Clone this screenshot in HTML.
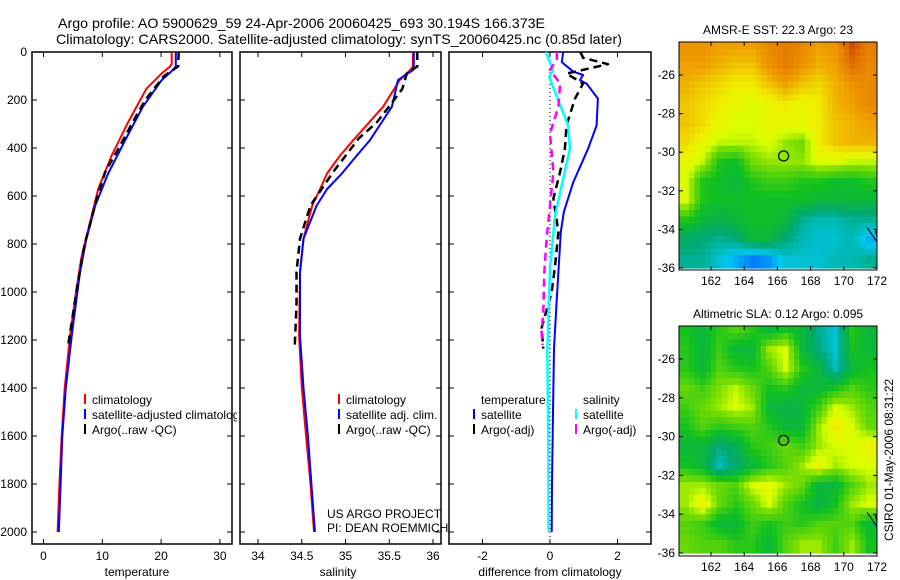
<!DOCTYPE html>
<html><head><meta charset="utf-8"><style>
html,body{margin:0;padding:0;background:#fff;}
svg{display:block;font-family:"Liberation Sans",sans-serif;}
</style></head><body>
<svg id="fig" width="900" height="580" viewBox="0 0 900 580" xmlns="http://www.w3.org/2000/svg">
<defs>
<clipPath id="c1"><rect x="32" y="52" width="205" height="492"/></clipPath>
<clipPath id="cm1"><rect x="679" y="42" width="198" height="228"/></clipPath>
<clipPath id="cm2"><rect x="679" y="326" width="198" height="230"/></clipPath>
</defs>
<text x="58" y="28" font-size="14" textLength="487" lengthAdjust="spacingAndGlyphs">Argo profile: AO 5900629_59 24-Apr-2006 20060425_693 30.194S 166.373E</text>
<text x="56" y="44" font-size="14" textLength="566" lengthAdjust="spacingAndGlyphs">Climatology: CARS2000. Satellite-adjusted climatology: synTS_20060425.nc (0.85d later)</text>
<g id="root"></g>
<text transform="translate(893,460) rotate(-90)" font-size="12" text-anchor="middle">CSIRO 01-May-2006 08:31:22</text>
</svg>
<script>
// ---- profile data (depth in m) ----
const tClimDepth=[0,50,61,89,153,292,431,571,710,849,988,1183,1400,1600,1800,2000];
const tClimVal=[21.8,21.8,21.5,20.1,17.5,14.4,11.6,9.3,7.9,6.5,5.6,4.5,3.6,3.1,2.7,2.4];
const tSatDepth=[0,60,75,117,228,367,506,640,778,917,1183,1400,1600,1800,2000];
const tSatVal=[22.5,22.5,22.0,20.1,16.9,13.9,11.0,8.8,7.3,6.2,4.8,3.8,3.2,2.9,2.6];
const tArgoDepth=[0,60,100,200,300,400,500,600,800,1000,1220];
const tArgoVal=[23.0,22.9,20.5,17.3,15.0,12.8,10.5,9.2,7.0,5.6,4.2];
const sClimDepth=[0,60,75,117,228,367,431,506,571,640,778,917,1183,1400,1600,1800,2000];
const sClimVal=[35.77,35.77,35.74,35.62,35.43,35.09,34.94,34.79,34.71,34.62,34.52,34.48,34.47,34.5,34.55,34.6,34.64];
const sSatDepth=[0,60,75,117,228,367,431,506,571,640,778,917,1183,1400,1600,1800,2000];
const sSatVal=[35.78,35.78,35.77,35.60,35.53,35.28,35.13,34.96,34.79,34.67,34.52,34.48,34.48,34.52,34.57,34.61,34.65];
const sArgoDepth=[0,60,89,153,222,292,361,500,639,778,917,1056,1220];
const sArgoVal=[35.82,35.82,35.70,35.65,35.51,35.36,35.15,34.86,34.60,34.48,34.44,34.44,34.42];
const dTSatDepth=[0,42,82,96,117,133,194,306,403,542,667,750,1028,1236,1500,1800,2000];
const dTSatVal=[0.39,0.35,0.69,0.98,0.89,1.09,1.42,1.38,1.13,0.69,0.41,0.32,0.2,0.12,0.09,0.06,0.05];
const dTArgoDepth=[0,24,51,65,90,131,194,306,403,500,611,750,889,1000,1150,1236];
const dTArgoVal=[0.9,0.98,1.72,1.27,0.49,0.98,0.74,0.49,0.44,0.30,0.10,0.25,0.15,0.05,-0.25,-0.2];
const dSSatDepth=[0,75,103,167,306,403,528,681,903,1250,1600,2000];
const dSSatVal=[-0.12,0.09,-0.02,0.15,0.54,0.59,0.39,0.15,0.0,-0.08,-0.05,-0.04];
const dSArgoDepth=[0,31,75,131,228,339,500,639,778,917,1083,1167,1222];
const dSArgoVal=[0.2,0.2,0.0,0.30,0.25,0.0,0.1,0.0,-0.1,-0.17,-0.2,-0.25,-0.22];
const depthTicks=[0,200,400,600,800,1000,1200,1400,1600,1800,2000];
const tempTicks=[0,10,20,30];
const salTicks=[34,34.5,35,35.5,36];
const diffTicks=[-2,0,2];
// ---- map data (rows lat -24.5..-35.5, cols lon 160.5..171.5) ----
const mapLons=[160.5,161.5,162.5,163.5,164.5,165.5,166.5,167.5,168.5,169.5,170.5,171.5];
const mapLats=[-24.5,-25.5,-26.5,-27.5,-28.5,-29.5,-30.5,-31.5,-32.5,-33.5,-34.5,-35.5];
const sstGrid=[
[23.1,23.1,23.0,23.0,23.0,23.2,23.3,23.2,23.0,23.1,23.6,23.3],
[23.0,23.0,22.9,22.8,22.8,23.1,23.3,23.1,22.9,23.0,23.4,23.2],
[22.9,22.8,22.7,22.6,22.6,22.8,23.0,22.8,22.7,22.9,23.1,23.2],
[22.8,22.7,22.6,22.5,22.4,22.5,22.6,22.5,22.6,22.9,23.0,23.2],
[22.8,22.7,22.5,22.4,22.4,22.5,22.5,22.5,22.6,22.8,22.9,23.0],
[22.7,22.5,22.3,22.3,22.3,22.4,22.2,22.1,22.6,22.8,22.9,22.9],
[22.5,22.3,21.8,21.7,22.1,22.2,22.2,22.2,22.4,22.4,22.3,22.3],
[22.4,21.8,21.7,21.6,21.8,21.9,21.9,21.8,21.8,21.7,21.7,21.8],
[22.4,21.8,21.7,21.7,21.7,21.7,21.7,21.7,21.6,21.6,21.6,21.6],
[21.8,21.6,21.5,21.6,21.7,21.7,21.6,21.2,21.1,21.1,21.2,21.2],
[21.4,21.3,21.2,21.3,21.6,21.6,21.3,21.1,21.0,21.0,21.1,20.8],
[21.2,21.2,21.0,20.8,20.6,20.7,21.0,21.0,21.0,21.1,21.1,21.2]];
const slaGrid=[
[0.02,0.0,0.03,0.05,0.03,0.0,0.02,0.0,-0.05,-0.08,0.03,0.0],
[0.03,0.0,0.04,0.0,0.0,0.08,0.1,0.0,-0.04,-0.08,0.02,0.0],
[0.03,0.0,0.05,0.03,0.02,0.05,0.1,0.03,0.0,-0.07,0.0,0.02],
[0.06,0.04,0.07,0.09,0.06,0.02,0.03,0.0,0.0,0.02,0.05,0.03],
[0.04,0.06,0.08,0.1,0.08,0.0,-0.01,0.0,0.04,0.1,0.08,0.05],
[0.02,0.05,0.03,0.04,0.05,0.03,0.0,0.0,0.08,0.13,0.1,0.06],
[0.0,0.0,-0.04,-0.02,0.03,0.04,0.06,0.04,0.08,0.1,0.1,0.12],
[0.02,0.0,-0.07,-0.03,0.0,0.03,0.05,0.08,0.12,0.08,0.1,0.1],
[0.08,0.08,0.06,0.05,0.1,0.11,0.08,0.06,0.0,0.0,0.05,0.08],
[0.08,0.12,0.06,0.03,0.06,0.1,0.05,0.02,-0.01,0.02,0.08,0.1],
[0.05,0.04,0.0,0.0,0.04,0.02,0.04,0.03,0.05,0.05,0.05,0.0],
[0.06,0.05,0.05,0.03,0.03,0.0,0.05,0.08,0.08,0.04,0.08,0.02]];
const mapLonTicks=[162,164,166,168,170,172];
const mapLatTicks=[-26,-28,-30,-32,-34,-36];
const argoLon=166.373, argoLat=-30.194;

const NS='http://www.w3.org/2000/svg';
const root=document.getElementById('root');
function mk(tag,attrs,parent){const e=document.createElementNS(NS,tag);for(const k in attrs)e.setAttribute(k,attrs[k]);(parent||root).appendChild(e);return e;}
function txt(s,attrs,parent){const e=mk('text',attrs,parent);e.textContent=s;return e;}
const yD=d=>52+d*0.24;
const xT=v=>43.5+v*5.88;
const xS=v=>258+(v-34)*87.5;
const xDf=v=>550+v*33.75;

const panels=[[32,200,'temperature-panel'],[240,201,'salinity-panel'],[449,202,'difference-panel']];
panels.forEach(p=>{
  const r=mk('rect',{x:p[0],y:52,width:p[1],height:492,fill:'none',stroke:'#000','stroke-width':1.5});
  
  
  depthTicks.forEach(d=>{
    mk('line',{x1:p[0],x2:p[0]+5,y1:yD(d),y2:yD(d),stroke:'#000'});
    mk('line',{x1:p[0]+p[1]-5,x2:p[0]+p[1],y1:yD(d),y2:yD(d),stroke:'#000'});
  });
});
depthTicks.forEach(d=>{
  const t=txt(String(d),{x:27,y:yD(d)+4,'font-size':12,'text-anchor':'end'});
  
  
});
function xticks(ticks,fx,label){
  ticks.forEach(v=>{
    mk('line',{x1:fx(v),x2:fx(v),y1:52,y2:57,stroke:'#000'});
    mk('line',{x1:fx(v),x2:fx(v),y1:539,y2:544,stroke:'#000'});
    const t=txt(String(v),{x:fx(v),y:560,'font-size':12,'text-anchor':'middle'});
    
    
  });
}
xticks(tempTicks,xT,'temperature');
xticks(salTicks,xS,'salinity');
xticks(diffTicks,xDf,'difference');
[['temperature',137,'temperature-axis-title'],['salinity',338,'salinity-axis-title'],['difference from climatology',550,'difference-axis-title']].forEach(a=>{
  const t=txt(a[0],{x:a[1],y:576,'font-size':12,'text-anchor':'middle'});
  
  
});
const z=mk('line',{x1:xDf(0),x2:xDf(0),y1:52,y2:544,stroke:'#000','stroke-dasharray':'1,3'});



function series(depths,vals,fx,color,dash,w,name){
  const pts=depths.map((d,i)=>fx(vals[i]).toFixed(1)+','+yD(d).toFixed(1)).join(' ');
  const a={points:pts,fill:'none',stroke:color,'stroke-width':w,'stroke-linejoin':'round'};
  if(dash)a['stroke-dasharray']=dash;
  const e=mk('polyline',a);
  
  
}
series(tClimDepth,tClimVal,xT,'#f00',null,2,'temp-climatology-line');
series(tSatDepth,tSatVal,xT,'#00f',null,2,'temp-satellite-line');
series(tArgoDepth,tArgoVal,xT,'#000','8,5',2.5,'temp-argo-line');
series(sClimDepth,sClimVal,xS,'#f00',null,2,'sal-climatology-line');
series(sSatDepth,sSatVal,xS,'#00f',null,2,'sal-satellite-line');
series(sArgoDepth,sArgoVal,xS,'#000','8,5',2.5,'sal-argo-line');
series(dTSatDepth,dTSatVal,xDf,'#00f',null,2,'diff-temp-satellite-line');
series(dTArgoDepth,dTArgoVal,xDf,'#000','8,5',2.5,'diff-temp-argo-line');
series(dSSatDepth,dSSatVal,xDf,'#0ff',null,2.5,'diff-sal-satellite-line');
series(dSArgoDepth,dSArgoVal,xDf,'#f0f','8,5',2.5,'diff-sal-argo-line');

function leg(x,y,color,label,clip,name){
  const g=mk('g',clip?{'clip-path':clip}:{});
  
  
  if(color)mk('line',{x1:x,x2:x,y1:y-10,y2:y,stroke:color,'stroke-width':2},g);
  txt(label,{x:x+7,y:y,'font-size':12},g);
}
leg(85,404,'#f00','climatology','url(#c1)','legend-temp-climatology');
leg(85,419,'#00f','satellite-adjusted climatology','url(#c1)','legend-temp-satellite');
leg(85,434,'#000','Argo(..raw -QC)','url(#c1)','legend-temp-argo');
leg(339,404,'#f00','climatology',null,'legend-sal-climatology');
leg(339,419,'#00f','satellite adj. clim.',null,'legend-sal-satellite');
leg(339,434,'#000','Argo(..raw -QC)',null,'legend-sal-argo');
leg(474,404,null,'temperature',null,'legend-temp-header');
leg(474,419,'#00f','satellite',null,'legend-diff-temp-satellite');
leg(474,434,'#000','Argo(-adj)',null,'legend-diff-temp-argo');
leg(576,404,null,'salinity',null,'legend-sal-header');
leg(576,419,'#0ff','satellite',null,'legend-diff-sal-satellite');
leg(576,434,'#f0f','Argo(-adj)',null,'legend-diff-sal-argo');
const c1=txt('US ARGO PROJECT',{x:327,y:518,'font-size':12});


const c2=txt('PI: DEAN ROEMMICH',{x:327,y:532,'font-size':12});



// colormap
const stops=[[0,[0,96,255]],[0.125,[0,200,240]],[0.25,[0,168,112]],[0.375,[16,192,32]],[0.5,[128,224,0]],[0.56,[216,255,0]],[0.625,[240,240,0]],[0.75,[240,160,0]],[0.875,[224,112,0]],[1,[192,32,0]]];
function cmap(t){t=Math.max(0,Math.min(1,t));for(let i=1;i<stops.length;i++){if(t<=stops[i][0]){const a=stops[i-1],b=stops[i];const f=(t-a[0])/(b[0]-a[0]);return 'rgb('+a[1].map((c,k)=>Math.round(c+(b[1][k]-c)*f)).join(',')+')';}}return 'rgb(192,32,0)';}
const xL=lon=>711+(lon-162)*16.6;
// bilinear sample of grid at fractional (row, col) index, for smooth display
function sample(grid,r,c){
  r=Math.max(0,Math.min(grid.length-1,r));c=Math.max(0,Math.min(grid[0].length-1,c));
  const r0=Math.floor(r),c0=Math.floor(c),r1=Math.min(r0+1,grid.length-1),c1=Math.min(c0+1,grid[0].length-1);
  const fr=r-r0,fc=c-c0;
  return (grid[r0][c0]*(1-fc)+grid[r0][c1]*fc)*(1-fr)+(grid[r1][c0]*(1-fc)+grid[r1][c1]*fc)*fr;
}
function drawMap(grid,toT,y0,ppd,top,h,clip,name,title){
  const yLat=lat=>y0+(-26-lat)*ppd;
  const g=mk('g',{'clip-path':clip});
  
  
  const sub=3, step=1/sub;
  mapLats.forEach((lat,i)=>mapLons.forEach((lon,j)=>{
    for(let a=0;a<sub;a++)for(let b=0;b<sub;b++){
      const la=lat+0.5-(a+0.5)*step, lo=lon-0.5+(b+0.5)*step;
      const v=sample(grid,i+(a+0.5)*step-0.5,j+(b+0.5)*step-0.5);
      const c=mk('rect',{x:xL(lo-step/2).toFixed(1),y:yLat(la+step/2).toFixed(1),width:(16.6*step+0.6).toFixed(1),height:(ppd*step+0.6).toFixed(1),fill:cmap(toT(v))},g);
      
      
    }
  }));
  mk('polyline',{points:xL(171.4)+','+yLat(-33.9)+' '+xL(172.2)+','+yLat(-34.9)+' '+xL(171.9)+','+yLat(-34.1)+' '+xL(172.2)+','+yLat(-34.0),fill:'none',stroke:'#000','stroke-width':1},g);
  mk('rect',{x:679,y:top,width:198,height:h,fill:'none',stroke:'#000','stroke-width':1});
  const m=mk('circle',{cx:xL(argoLon),cy:yLat(argoLat),r:5,fill:'none',stroke:'#000','stroke-width':1.2});
  
  
  mapLonTicks.forEach(l=>{
    mk('line',{x1:xL(l),x2:xL(l),y1:top+h,y2:top+h-4,stroke:'#000'});
    mk('line',{x1:xL(l),x2:xL(l),y1:top,y2:top+4,stroke:'#000'});
    const t=txt(String(l),{x:xL(l),y:top+h+15,'font-size':12,'text-anchor':'middle'});
    
    
  });
  mapLatTicks.forEach(l=>{
    mk('line',{x1:679,x2:683,y1:yLat(l),y2:yLat(l),stroke:'#000'});
    mk('line',{x1:873,x2:877,y1:yLat(l),y2:yLat(l),stroke:'#000'});
    const t=txt(String(l),{x:675,y:yLat(l)+4,'font-size':12,'text-anchor':'end'});
    
    
  });
  const tt=txt(title,{x:778,y:top-8,'font-size':12,'text-anchor':'middle'});
  
  
}
drawMap(sstGrid,v=>0.125+(v-20.9)/2.1*0.625,75,19.3,42,228,'url(#cm1)','sst-map','AMSR-E SST: 22.3 Argo: 23');
drawMap(slaGrid,v=>0.125+(v+0.09)/0.27*0.625,359,19.4,326,230,'url(#cm2)','sla-map','Altimetric SLA: 0.12 Argo: 0.095');
</script>
</body></html>
